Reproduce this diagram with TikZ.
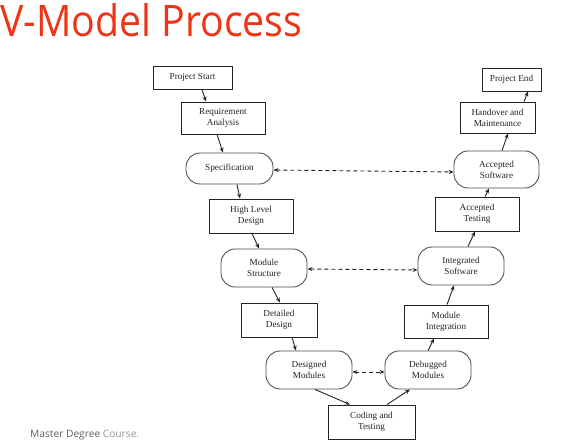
\documentclass[tikz,border=0pt]{standalone}
\usepackage{fontspec}
\setmainfont{Liberation Serif}
\newfontfamily\titlefont{Open Sans}
\usetikzlibrary{arrows.meta,calc}
\definecolor{titlered}{RGB}{238,52,21}
\definecolor{footdark}{RGB}{95,95,95}
\definecolor{footlight}{RGB}{150,150,150}
\definecolor{linec}{RGB}{35,35,35}
\tikzset{
  every node/.style={font=\fontsize{9.2}{11}\selectfont, text=linec, align=center, inner sep=0pt},
  boxnode/.style={draw=linec, line width=0.9pt, minimum width=#1},
  roundnode/.style={draw=linec!80, line width=0.9pt, rounded corners=14pt, minimum width=#1},
  flow/.style={draw=linec, line width=0.9pt, -{Stealth[length=5pt,width=4pt]}},
  link/.style={draw=linec, line width=0.9pt, dash pattern=on 4pt off 3pt, {Stealth[length=5pt,width=4pt]}-{Stealth[length=5pt,width=4pt]}}
}
\begin{document}
\begin{tikzpicture}[x=1pt,y=1pt]
\useasboundingbox (0,0) rectangle (586,445);
% title and footer
\node[anchor=base west, inner sep=0pt] (title) at (0,408)
  {\resizebox{302pt}{33pt}{\color{titlered}\titlefont V-Model Process}};
\node[anchor=base west, inner sep=0pt, font=\titlefont\fontsize{10.2}{12}\selectfont] (foot) at (30,8)
  {\textcolor{footdark}{Master Degree} \textcolor{footlight}{Course.}};
% left branch
\node[boxnode=79pt, minimum height=23pt] (ps) at (192.5,367.5) {Project Start};
\node[boxnode=84pt, minimum height=32pt] (ra) at (223,327) {Requirement\\Analysis};
\node[roundnode=87pt, minimum height=31pt] (sp) at (229.5,276.5) {Specification};
\node[boxnode=84pt, minimum height=34pt] (hld) at (251,229) {High Level\\Design};
\node[roundnode=86pt, minimum height=38pt] (ms) at (264,177) {Module\\Structure};
\node[boxnode=76pt, minimum height=34pt] (dd) at (279,125) {Detailed\\Design};
\node[roundnode=86pt, minimum height=38pt] (dm) at (309,75) {Designed\\Modules};
% bottom
\node[boxnode=87pt, minimum height=34pt] (ct) at (371.5,23) {Coding and\\Testing};
% right branch
\node[roundnode=86pt, minimum height=38pt] (dbm) at (428,75) {Debugged\\Modules};
\node[boxnode=84pt, minimum height=33pt] (mi) at (446,123.5) {Module\\Integration};
\node[roundnode=86pt, minimum height=38pt] (is) at (461,179) {Integrated\\Software};
\node[boxnode=84pt, minimum height=34pt] (at) at (477,231) {Accepted\\Testing};
\node[roundnode=85pt, minimum height=37pt] (as) at (496.5,275.5) {Accepted\\Software};
\node[boxnode=75pt, minimum height=31pt] (hm) at (497.5,327.5) {Handover and\\Maintenance};
\node[boxnode=59pt, minimum height=23pt] (pe) at (511.5,365.5) {Project End};
% flow arrows
\draw[flow] ([xshift=9.5pt]ps.south) -- ([xshift=-17pt]ra.north);
\draw[flow] ([xshift=-6pt]ra.south) -- ([xshift=-6.5pt]sp.north);
\draw[flow] ([xshift=7.5pt]sp.south) -- ([xshift=-11pt]hld.north);
\draw[flow] ([xshift=1pt]hld.south) -- ([xshift=-5pt]ms.north);
\draw[flow] ([xshift=8pt]ms.south) -- ([xshift=1pt]dd.north);
\draw[flow] ([xshift=13pt]dd.south) -- ([xshift=-13pt]dm.north);
\draw[flow] ([xshift=6pt]dm.south) -- ([xshift=-21.5pt]ct.north);
\draw[flow] ([xshift=15.5pt]ct.north) -- ([xshift=-18pt]dbm.south);
\draw[flow] (dbm.north) -- ([xshift=-12pt]mi.south);
\draw[flow] ([xshift=1pt]mi.north) -- ([xshift=-7pt]is.south);
\draw[flow] ([xshift=7pt]is.north) -- ([xshift=-2pt]at.south);
\draw[flow] ([xshift=8pt]at.north) -- ([xshift=-7.5pt]as.south);
\draw[flow] ([xshift=5.5pt]as.north) -- ([xshift=10.5pt]hm.south);
\draw[flow] ([xshift=26.5pt]hm.north) -- ([xshift=16.5pt]pe.south);
% verification links
\draw[link] ([yshift=-1.5pt]sp.east) -- ([yshift=-2.5pt]as.west);
\draw[link] ([yshift=-1pt]ms.east) -- ([yshift=-4pt]is.west);
\draw[link] ([yshift=-2pt]dm.east) -- ([yshift=-2pt]dbm.west);
\end{tikzpicture}
\end{document}
